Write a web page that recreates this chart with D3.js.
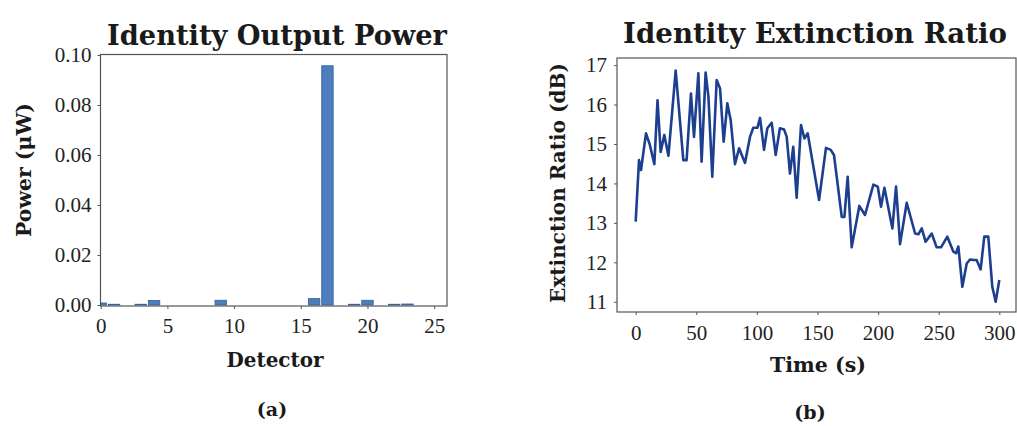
<!DOCTYPE html>
<html><head><meta charset="utf-8">
<script src="https://cdn.jsdelivr.net/npm/d3@7"></script>
<style>
html,body{margin:0;padding:0;background:#fff;}
svg{display:block;}
.tick text{font-family:"Liberation Serif","DejaVu Serif",serif;font-size:21px;fill:#222;}
</style></head>
<body>
<svg id="c" width="1017" height="426"></svg>
<script>
// ---------- Data ----------
const detectors = d3.range(0, 25);
const powerValues = [0.0008,0.0003,0,0.0003,0.0018,0,0,0,0,0.0019,
  0,0,0,0,0,0,0.0026,0.0957,0,0.0003,0.0019,0,0.0003,0.0004,0];
const powerTicksX = [0,5,10,15,20,25];
const powerTicksY = [0,0.02,0.04,0.06,0.08,0.10];

const timeS = [0,2.75,4.4,8.5,11.5,15.4,18,20.6,23.6,27,33,39.3,42,45.6,48.1,51.7,54.4,57.7,60,63.2,66.8,69.6,72.6,75.6,78.4,81.9,85.3,90.2,94.3,97,100.4,102.6,105.9,108.6,112.2,115.5,119,122.4,124.6,127.3,130,132.8,136.4,139.2,141.9,151.3,157,160.9,163.6,170,172.2,174.9,178.2,184.5,189.2,196.1,199.7,202.4,205.2,211.8,214.8,218.1,223.6,230.5,233.2,236,239.2,244.2,248.3,251.9,257.1,262.1,264.3,266.2,269.5,273.1,275.8,278.6,281.3,284.6,287.6,290.9,294.2,297,300];
const extRatio = [13.03,14.59,14.34,15.27,15.0,14.49,16.11,14.8,15.23,14.7,16.86,14.59,14.59,16.28,15.18,16.79,14.55,16.81,16.2,14.17,16.62,16.41,15.06,16.03,15.6,14.49,14.89,14.52,15.18,15.41,15.41,15.66,14.85,15.4,15.54,14.72,15.4,15.37,15.18,14.25,14.93,13.64,15.48,15.14,15.27,13.58,14.9,14.85,14.72,13.15,13.15,14.17,12.38,13.43,13.2,13.97,13.92,13.41,13.89,12.86,13.92,12.46,13.51,12.73,12.71,12.86,12.52,12.73,12.38,12.38,12.65,12.27,12.23,12.4,11.38,11.97,12.07,12.06,12.06,11.82,12.65,12.65,11.38,11.0,11.55];
const timeTicks = [0,50,100,150,200,250,300];
const ratioTicks = [11,12,13,14,15,16,17];

const titles = ["Identity Output Power","Identity Extinction Ratio"];
const xLabels = ["Detector","Time (s)"];
const yLabels = ["Power (\u03bcW)","Extinction Ratio (dB)"];
const captions = ["(a)","(b)"];

// ---------- Drawing ----------
const svg = d3.select("#c");
const boldFont = '"DejaVu Serif", serif';

function fitText(t, w){
  let fs = parseFloat(t.attr("font-size"));
  const len = t.node().getComputedTextLength();
  t.attr("font-size", (fs * w / len).toFixed(2));
}

// ---- Chart (a) ----
const A = {l:100.5, r:447, t:54.5, b:306};
const xA = d3.scaleLinear().domain([0, 26]).range([100.7, 447.5]);
const yA = d3.scaleLinear().domain([0, 0.1]).range([305, 55]);

svg.append("clipPath").attr("id","clipA").append("rect")
  .attr("x",A.l).attr("y",A.t).attr("width",A.r-A.l).attr("height",A.b-A.t);

const gA = svg.append("g");
gA.append("g").attr("clip-path","url(#clipA)").selectAll("rect")
  .data(detectors.filter((d,i) => powerValues[i] > 0)).join("rect")
  .attr("x", d => xA(d - 0.43))
  .attr("width", xA(0.86) - xA(0))
  .attr("y", d => yA(powerValues[d]))
  .attr("height", d => Math.max(0, yA(0) - yA(powerValues[d])))
  .attr("fill","#4d7dbc").attr("stroke","#35629c").attr("stroke-width",0.8);

gA.append("g").attr("transform",`translate(0,${A.b})`)
  .call(d3.axisBottom(xA).tickValues(powerTicksX).tickSize(3).tickPadding(9).tickFormat(d3.format("d")))
  .call(g => g.select(".domain").remove())
  .call(g => g.selectAll("line").attr("stroke","#555"));
gA.append("g").attr("transform",`translate(${A.l},0)`)
  .call(d3.axisLeft(yA).tickValues(powerTicksY).tickSize(3).tickPadding(6).tickFormat(d3.format(".2f")))
  .call(g => g.select(".domain").remove())
  .call(g => g.selectAll("line").attr("stroke","#555"));
gA.append("rect").attr("x",A.l).attr("y",A.t).attr("width",A.r-A.l).attr("height",A.b-A.t)
  .attr("fill","none").attr("stroke","#555").attr("stroke-width",1.2);

let t;
t = svg.append("text").text(titles[0]).attr("x",277).attr("y",45).attr("text-anchor","middle")
  .attr("font-family",boldFont).attr("font-weight","bold").attr("font-size",26).attr("fill","#1a1a1a");
fitText(t, 340);
t = svg.append("text").text(xLabels[0]).attr("x",275).attr("y",367).attr("text-anchor","middle")
  .attr("font-family",boldFont).attr("font-weight","bold").attr("font-size",18).attr("fill","#1a1a1a");
fitText(t, 97);
t = svg.append("text").text(yLabels[0]).attr("transform","translate(31,170) rotate(-90)").attr("text-anchor","middle")
  .attr("font-family",boldFont).attr("font-weight","bold").attr("font-size",18).attr("fill","#1a1a1a");
fitText(t, 134);
svg.append("text").text(captions[0]).attr("x",272).attr("y",416).attr("text-anchor","middle")
  .attr("font-family",boldFont).attr("font-weight","bold").attr("font-size",19).attr("fill","#1a1a1a");

// ---- Chart (b) ----
const B = {l:617, r:1016, t:58, b:312};
const xB = d3.scaleLinear().domain([-15, 315]).range([617.5, 1017.5]);
const yB = d3.scaleLinear().domain([10.74, 17.18]).range([312, 58]);

const gB = svg.append("g");
gB.append("g").attr("transform",`translate(0,${B.b})`)
  .call(d3.axisBottom(xB).tickValues(timeTicks).tickSize(3).tickPadding(10).tickFormat(d3.format("d")))
  .call(g => g.select(".domain").remove())
  .call(g => g.selectAll("line").attr("stroke","#555"));
gB.append("g").attr("transform",`translate(${B.l},0)`)
  .call(d3.axisLeft(yB).tickValues(ratioTicks).tickSize(3).tickPadding(7).tickFormat(d3.format("d")))
  .call(g => g.select(".domain").remove())
  .call(g => g.selectAll("line").attr("stroke","#555"));
gB.append("rect").attr("x",B.l).attr("y",B.t).attr("width",B.r-B.l).attr("height",B.b-B.t)
  .attr("fill","none").attr("stroke","#555").attr("stroke-width",1.2);

const line = d3.line().x((d,i) => xB(timeS[i])).y(d => yB(d));
gB.append("path").datum(extRatio).attr("d", line)
  .attr("fill","none").attr("stroke","#1d3f8f").attr("stroke-width",2.6).attr("stroke-linejoin","round");

t = svg.append("text").text(titles[1]).attr("x",815).attr("y",43).attr("text-anchor","middle")
  .attr("font-family",boldFont).attr("font-weight","bold").attr("font-size",26).attr("fill","#1a1a1a");
fitText(t, 384);
t = svg.append("text").text(xLabels[1]).attr("x",818).attr("y",372).attr("text-anchor","middle")
  .attr("font-family",boldFont).attr("font-weight","bold").attr("font-size",18).attr("fill","#1a1a1a");
fitText(t, 96);
t = svg.append("text").text(yLabels[1]).attr("transform","translate(565,183) rotate(-90)").attr("text-anchor","middle")
  .attr("font-family",boldFont).attr("font-weight","bold").attr("font-size",18).attr("fill","#1a1a1a");
fitText(t, 240);
svg.append("text").text(captions[1]).attr("x",810).attr("y",419).attr("text-anchor","middle")
  .attr("font-family",boldFont).attr("font-weight","bold").attr("font-size",19).attr("fill","#1a1a1a");
</script>
</body></html>
